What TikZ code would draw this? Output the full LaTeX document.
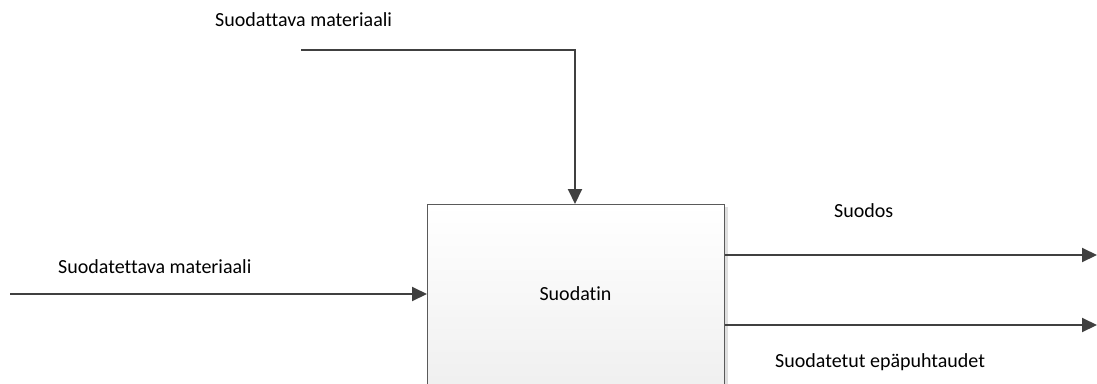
\documentclass[tikz,border=0pt]{standalone}
\usepackage{fontspec}
\setmainfont{Carlito}[Ligatures=NoCommon]
\usetikzlibrary{arrows.meta,shadows}
\definecolor{linegray}{HTML}{404040}
\definecolor{boxedge}{HTML}{5A5A5A}
\begin{document}
\begin{tikzpicture}[x=1pt,y=-1pt,
  flow/.style={draw=linegray,line width=2pt,-{Triangle[length=15pt,width=14pt]}},
  txt/.style={font=\fontsize{20}{24}\selectfont,text=black,inner sep=0pt},
  lbl/.style={txt,anchor=west},
  unit/.style={draw=boxedge,line width=1pt,top color=white,bottom color=gray!12,
    minimum width=297pt,minimum height=180pt,inner sep=0pt,
    drop shadow={shadow xshift=3pt,shadow yshift=-2pt,fill=gray!25,opacity=1}}]
\useasboundingbox (0,0) rectangle (1097,383);
\node[unit,anchor=north west] (box) at (427,204) {};
\node[txt] (boxlbl) at (575.5,294) {Suodatin};
% input from the top
\coordinate (topstart) at (301,50);
\coordinate (topbend) at (575,50);
\draw[flow] (topstart) -- (topbend) -- (box.north -| topbend);
\node[lbl] (toplbl) at (215,20) {Suodattava materiaali};
% input from the left
\coordinate (leftstart) at (10,294);
\draw[flow] (leftstart) -- (box.west |- leftstart);
\node[lbl] (leftlbl) at (58,267) {Suodatettava materiaali};
% outputs
\coordinate (out1) at (1097,255);
\coordinate (out2) at (1097,325);
\draw[flow] (box.east |- out1) -- (out1);
\draw[flow] (box.east |- out2) -- (out2);
\node[lbl] (out1lbl) at (834,211) {Suodos};
\node[lbl] (out2lbl) at (775,362) {Suodatetut epäpuhtaudet};
\end{tikzpicture}
\end{document}
